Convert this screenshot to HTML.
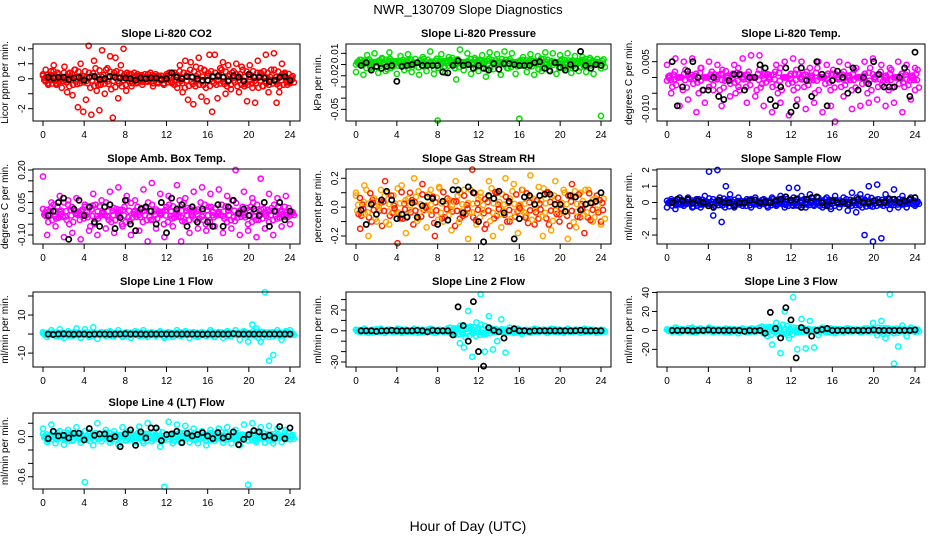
<!DOCTYPE html>
<html><head><meta charset="utf-8"><style>
body{margin:0;background:#fff}
svg{display:block;font-family:"Liberation Sans",sans-serif}
</style></head><body>
<svg id="chart" width="936" height="540" viewBox="0 0 936 540" xmlns="http://www.w3.org/2000/svg">
<text x="468" y="14" text-anchor="middle" font-size="13">NWR_130709  Slope Diagnostics</text>
<text x="468" y="531" text-anchor="middle" font-size="14">Hour of Day (UTC)</text>
</svg>
<script>
const xTicks=[0,4,8,12,16,20,24];
const co2Spread=[0.2,0.6,-0.3,0.5,0.9,-0.4,0.3,-0.6,0.8,-0.9,0.4,-1.1,0.6,-1.9,1.0,-2.2,-1.4,2.2,-2.4,1.2,-0.8,-2.1,1.9,-1.0,0.7,1.5,-2.6,1.4,-1.3,0.9,2.0,-0.8,0.3,-0.5,0.4,-0.3,0.2,-0.4,0.3,-0.2,0.4,-0.5,0.3,-0.3,0.2,-0.4,0.3,0.2,-0.3,0.4,-0.6,0.9,-0.9,1.2,-1.4,1.1,-1.7,0.8,1.4,-1.2,0.6,-1.5,1.6,-2.2,1.6,-1.3,0.7,1.1,-1.0,0.9,-0.7,0.5,1.0,-0.9,0.8,-0.5,-1.5,0.9,-0.6,-1.6,1.2,0.4,-0.5,1.6,-0.9,0.6,1.7,-1.6,-0.9,1.0,0.3,-0.4,-0.2];
const co2Core=[0.3,-0.4,0.5,-0.2,0.4,-0.5,0.6,-0.3,0.5,-0.6,0.7,-0.4,0.6,-0.7,0.5,-0.5,0.4,-0.3,0.3,-0.2,0.3,-0.3,0.2,-0.3,0.4,-0.4,0.5,-0.6,0.6,-0.5,0.7,-0.6,0.5,-0.4,0.6,-0.5,0.4,-0.5,0.6,-0.4,0.5,-0.6,0.5,-0.4,0.6,-0.5,0.4,-0.3];
const co2Black=[0.1,0.05,0.1,0.1,-0.05,0.05,0.1,-0.1,0.1,0.15,-0.05,0,0.15,0.1,0.05,0.05,0,-0.1,0.05,0,0.05,0.05,-0.05,0,0.4,0.1,0,0.15,0.1,0,-0.1,-0.1,0.15,0.2,0.1,-0.15,0.2,0.1,-0.15,0.3,0.1,0.1,0.05,-0.2,-0.1,0.1,0.15,-0.1];
const presSpread=[-0.01,0.003,-0.013,0.008,-0.006,0.01,-0.011,0.005,-0.009,0.011,-0.004,-0.012,0.007,-0.008,0.009,-0.01,0.004,-0.013,0.006,-0.009,0.012,-0.012,-0.062,0.009,-0.011,0.006,0.005,-0.018,0.014,-0.008,0.01,-0.012,0.005,-0.009,0.008,-0.015,0.011,-0.007,0.009,-0.013,0.012,-0.006,0.01,-0.012,-0.06,0.006,-0.01,0.009,-0.013,0.007,-0.009,0.011,-0.008,0.01,-0.012,0.008,-0.006,0.01,-0.011,0.007,-0.009,0.006,-0.01,0.005,-0.012,0.004,-0.057];
const presCore=[-0.002,0.003,-0.006,0.001,-0.004,0.004,-0.007,0.002,-0.003,0.003,-0.006,0,-0.005,0.004,-0.002,-0.007,0.002,-0.004,0.003,-0.006,0.001,-0.003,0.004,-0.005,0.002,-0.007,0.003,-0.002,0.004,-0.006,0.001,-0.004,0.003,-0.005,0.002,-0.007,0.004,-0.003,0.001,-0.006,0.003,-0.004,0.002,-0.005,0.004,-0.003,0.001,-0.006];
const presBlack=[-0.003,0,-0.008,-0.004,-0.006,-0.004,-0.003,-0.02,-0.004,-0.003,-0.002,0,-0.003,-0.003,-0.003,-0.003,-0.01,-0.011,-0.003,0.002,-0.003,-0.002,-0.006,-0.003,-0.006,-0.008,-0.001,-0.007,-0.001,-0.001,-0.002,-0.003,-0.003,-0.003,0,0.001,-0.006,-0.009,0,-0.005,-0.008,-0.002,-0.006,0.012,-0.003,-0.006,-0.002,-0.003];
const tempSpread=[0.004,-0.005,0.006,-0.009,0.005,-0.007,0.006,-0.011,0.003,-0.008,0.005,-0.004,0.004,-0.009,0.002,-0.006,0.004,-0.003,0.006,-0.008,0.007,-0.006,0.007,-0.009,0.001,-0.011,0.004,-0.008,0.005,-0.012,0.006,-0.007,0.005,-0.01,0.003,-0.008,0.005,-0.011,0.004,-0.009,-0.014,0.005,-0.006,0.004,-0.01,0.003,-0.009,0.005,-0.008,0.006,-0.007,0.004,-0.009,0.003,-0.008,0.005,-0.011,0.004,-0.007,0.003];
const tempCore=[-0.001,-0.003,0,-0.004,0.001,-0.002,-0.005,0,-0.003,0.001,-0.004,-0.001,-0.002,-0.005,0.001,-0.003,0,-0.004,-0.002,0.001,-0.003,-0.005,0,-0.002,-0.004,0.001,-0.003,-0.001,-0.005,0,-0.002,-0.004,0.001,-0.003,-0.001,-0.004,0,-0.002,-0.005,0.001,-0.003,-0.001,-0.004,0,-0.002,-0.003,-0.001,-0.004];
const tempBlack=[0.005,-0.009,-0.003,0.002,0.005,0,-0.004,-0.004,0,-0.006,-0.007,-0.001,0.001,0.001,-0.004,0,0,0.004,0.003,-0.007,-0.009,-0.003,0.003,-0.011,-0.009,0.003,-0.001,-0.006,0.005,0.001,-0.009,-0.001,0.002,0,-0.005,0.003,-0.004,0,-0.002,0.005,0.001,-0.003,-0.003,-0.003,0,0.003,-0.006,0.008];
const ambSpread=[0.17,-0.1,0.05,-0.06,0.08,-0.11,0.06,-0.09,0.07,-0.12,0.04,-0.08,0.09,-0.1,0.06,-0.07,0.1,-0.09,0.12,-0.06,0.08,-0.1,0.06,-0.08,0.11,-0.13,0.14,-0.07,0.09,-0.11,0.08,-0.06,0.13,-0.13,0.07,-0.09,0.1,-0.07,0.12,-0.08,0.09,-0.06,0.11,-0.09,0.08,-0.07,0.2,-0.1,0.1,-0.08,0.07,-0.11,0.16,-0.07,0.09,-0.1,0.07,-0.06,0.08,-0.05];
const ambCore=[0.02,-0.04,0.04,-0.02,0.05,-0.05,0.01,-0.03,0.03,-0.06,0.04,-0.01,0.05,-0.04,0.02,-0.05,0.06,-0.02,0.03,-0.04,0.05,-0.03,0.01,-0.05,0.04,-0.02,0.06,-0.04,0.02,-0.03,0.05,-0.05,0.03,-0.01,0.04,-0.04,0.06,-0.02,0.03,-0.05,0.05,-0.03,0.02,-0.04,0.04,-0.02,0.03,-0.01];
const ambBlack=[-0.01,0.01,0.05,0.07,-0.12,0.02,0.06,-0.01,0.03,-0.04,-0.06,0.03,0.04,-0.07,-0.02,0.06,-0.05,-0.08,0.02,0.03,0.01,-0.05,0.05,-0.09,0.07,0.02,0.04,-0.06,0.03,-0.04,0.02,-0.04,-0.06,0.04,-0.06,0.03,0.06,0,0.02,-0.01,0.02,-0.01,0.05,-0.06,0.01,0.05,-0.03,0.01];
const rhSpread=[0.1,-0.15,0.15,-0.2,0.05,-0.1,0.12,0.18,-0.12,0.08,-0.25,0.15,-0.18,0.1,0.2,-0.08,0.16,-0.14,0.12,-0.2,0.14,-0.1,0.06,-0.16,0.18,-0.08,0.12,-0.22,0.26,-0.12,0.1,-0.15,0.18,-0.2,0.1,-0.14,0.2,-0.1,0.16,-0.18,0.12,-0.06,0.22,-0.12,0.14,-0.2,0.1,-0.16,0.18,-0.1,0.12,-0.22,0.16,-0.14,0.1,-0.18,0.12,-0.1,0.08,-0.12];
const rhCore=[0.08,-0.06,0.12,-0.1,0.04,-0.13,0.1,-0.04,0.13,-0.08,0.06,-0.12,0.11,-0.02,0.09,-0.11,0.13,-0.07,0.05,-0.13,0.1,-0.05,0.12,-0.09,0.07,-0.12,0.13,-0.06,0.09,-0.1,0.11,-0.03,0.12,-0.11,0.06,-0.08,0.13,-0.12,0.08,-0.05,0.1,-0.13,0.11,-0.07,0.12,-0.09,0.06,-0.1];
const rhBlack=[-0.02,-0.12,0.02,-0.05,0.05,0.11,0.05,-0.08,-0.05,-0.07,0.03,-0.07,0.01,0.07,0.06,-0.12,0.04,-0.09,0.12,0.12,-0.04,0.14,0.1,-0.1,-0.24,0.08,0.06,0.11,-0.04,0.04,-0.22,-0.08,0.07,0.08,0.02,0.08,0.09,0.09,0.02,0.02,-0.03,0.08,0.07,-0.02,0.02,0.03,0.04,0.1];
const sfSpread=[-0.3,0.2,-0.4,0.3,-0.2,0.3,-0.3,0.2,-0.3,0.4,1.9,-0.8,2.0,-1.2,1.0,0.5,-0.3,0.3,-0.2,0.2,-0.3,0.3,-0.2,0.2,-0.3,0.3,-0.2,0.4,-0.3,0.9,-0.2,0.9,0.4,-0.3,0.5,-0.2,0.3,-0.3,0.3,-0.4,0.4,-0.3,0.3,-0.5,0.6,-0.6,0.5,-2.0,1.0,-2.4,1.1,-2.2,0.5,-0.4,0.8,-0.3,0.4,-0.3,0.3,-0.2];
const sfCore=[0.1,-0.2,0.2,-0.1,0.15,-0.25,0.2,-0.1,0.25,-0.2,0.3,-0.3,0.2,-0.15,0.1,-0.2,0.2,-0.1,0.15,-0.2,0.2,-0.1,0.25,-0.2,0.3,-0.2,0.2,-0.15,0.1,-0.2,0.2,-0.25,0.15,-0.1,0.2,-0.2,0.3,-0.3,0.35,-0.25,0.2,-0.2,0.25,-0.15,0.2,-0.1,0.15,-0.1];
const sfBlack=[0,0.2,0.1,0.2,-0.05,0.1,0,-0.2,-0.3,0.15,0,0,-0.2,0,0,0.15,0.15,0,0.05,0,0.1,0.2,0.35,0.15,0.2,-0.3,0.2,0.3,0.35,0,-0.2,0.1,0,0.05,-0.1,0.1,0.2,0,0,0.1,0,0,0.2,0.2,0,0.1,0.2,0.3];
const l1Spread=[1,-1.5,2,-1,2.5,-2,1.5,-1,3,-2,2.5,-1.5,3.5,-2.5,1,-1,1.5,-1,2,-1.5,1,-2,1.5,-1,2,-1.5,1,-1,1.5,-2,1,-1.5,2,-1,1.5,-2,1,-1.5,1,-1,2,-1.5,1,-2,1.5,-1,2,-3,1.5,-4,5,3,-4,22,-14,-11,2,-3,1.5,2];
const l1Core=[0.5,-0.5,1,-1,0.5,-0.8,1,-0.5,0.8,-1,0.5,-0.5,1,-0.8,0.5,-1,0.8,-0.5,1,-0.8,0.5,-0.5,0.8,-1,0.5,-0.8,1,-0.5,0.8,-1,0.5,-0.8,1,-0.5,0.8,-1,0.5,-0.5,1,-0.8,1.5,-2,1,-1.5,1,-1,0.8,-0.5];
const l1Black=[0,-0.2,0,0.1,0,-0.1,0,0,-0.2,0,0,0,-0.1,0,0,0.1,0,0,0,-0.1,0,0,0,0,0,0,0,0,0,0,-0.1,0,0,0,0,0,0.2,0,0,0,0,0,0,0,0,0,0,0];
const l2Spread=[1,-1,2,-2,1,-1,2,-2,1,-1,2,-2,1,-1,2,-2,1,-1,2,-2,1,-1,2,-3,2,-12,-16,19,-25,8,35,-20,14,-18,-10,11,-21,3,-2,2,-3,1,-2,2,-1,1,-2,2,-1,1,-2,2,-1,1,-2,2,-1,1,-2,1];
const l2Core=[1,-1,0.5,-1.5,1.5,-0.5,1,-1,1.5,-1.5,0.5,-1,1,-1.5,1.5,-1,0.5,-1,3,-4,5,-6,4,-5,6,-3,2,-1,1.5,-1,1,-1.5,0.5,-1,1.5,-0.5,1,-1,1.5,-1,0.5,-1,1,-1.5,1.5,-1,0.5,-1];
const l2Black=[0,0,0,-0.5,0,0,0.5,0,0,0,0,0.5,0,-1,0.5,0,0,0,-4,23,5,-10,28,-20,-34,3,0.5,-1,-7,0,2,0,0,-0.5,0,0,0,0,0,0,0,0,0,0.5,0,0,0,0];
const l3Spread=[1,-1,3,-2,1,-1,3,-2,2,-1,3,-2,1,-1,2,-2,1,-3,2,-2,1,-1,3,-3,2,-15,8,-24,20,-8,35,-20,12,-19,10,-18,-5,3,-2,2,-3,1,-2,2,-1,1,-2,2,-1,8,-5,10,-8,38,-35,-17,5,-6,3,1];
const l3Core=[1,-1.5,1.5,-1,2,-2,1,-1,2,-1.5,1,-2,1.5,-1,1,-2,2,-1,4,-6,3,-4,6,-5,3,-2,2,-1,1,-1.5,1,-2,1.5,-1,2,-1,1,-1.5,2,-1,3,-4,2,-3,1.5,-1,1,-1.5];
const l3Black=[0,0,0,0,-0.5,0,0,0.5,0,0,0,0,0,0,-1,0,-0.5,0,-3,19,2,-8,24,11,-29,3,0,-6,0,1,2,0,0,0,0,0,0,0,0,0.5,0,0,0,0,0,0,0,0.5];
const l4Spread=[0.12,-0.08,0.18,-0.1,0.08,-0.12,0.1,-0.06,0.14,-0.09,-0.68,0.12,-0.13,0.2,-0.07,0.1,-0.09,0.08,-0.12,0.14,-0.06,0.1,-0.08,0.15,-0.1,0.2,-0.07,0.12,-0.15,-0.75,0.22,-0.1,0.18,-0.09,0.16,-0.08,0.12,-0.1,0.08,-0.13,0.1,-0.06,0.12,-0.09,0.14,-0.1,0.1,-0.13,0.18,-0.72,0.2,-0.08,0.14,-0.09,0.16,-0.1,0.12,-0.08,0.1,-0.04];
const l4Core=[0.04,-0.05,0.07,-0.03,0.06,-0.06,0.02,-0.04,0.08,-0.07,0.05,-0.02,0.06,-0.05,0.03,-0.06,0.07,-0.03,0.05,-0.07,0.04,-0.04,0.08,-0.05,0.03,-0.06,0.06,-0.02,0.07,-0.05,0.04,-0.06,0.05,-0.03,0.07,-0.04,0.06,-0.05,0.03,-0.06,0.08,-0.03,0.05,-0.06,0.04,-0.02,0.06,-0.04];
const l4Black=[-0.03,0.08,0.01,0.02,-0.02,0.05,0.05,-0.05,0.12,0.02,0.04,0.04,-0.03,0,-0.15,0.04,0.1,-0.13,0.07,-0.02,0.13,0.13,-0.06,0.03,0.04,0.08,-0.09,0.05,0.01,0.03,0.06,0.01,-0.03,0.06,-0.02,0.0,0.07,-0.12,-0.04,0.03,0.09,0.07,0,0.02,-0.02,0.15,-0.03,0.13];
const co2Ticks=[-2,-1,0,1,2], co2Labels=["-2","","0","1","2"];
const presTicks=[0.01,-0.002,-0.014,-0.026,-0.038,-0.05], presLabels=["0.01","","-0.02","","","-0.05"];
const tempTicks=[0.005,0,-0.005,-0.01], tempLabels=["0.005","","","-0.010"];
const ambTicks=[0.2,0.15,0.1,0.05,0,-0.05,-0.1], ambLabels=["0.20","","","0.05","","","-0.10"];
const rhTicks=[0.2,0.1,0,-0.1,-0.2], rhLabels=["0.2","","0.0","","-0.2"];
const sfTicks=[2,1,0,-1,-2], sfLabels=["2","1","0","","-2"];
const l1Ticks=[20,10,0,-10], l1Labels=["","10","","-10"];
const l2Ticks=[30,20,10,0,-10,-20,-30], l2Labels=["","20","","0","","","-30"];
const l3Ticks=[40,20,0,-20], l3Labels=["40","20","0","-20"];
const l4Ticks=[0.2,0,-0.2,-0.4,-0.6], l4Labels=["","0.0","","","-0.6"];

const colL=[33,346,657], colR=[300,611,925], rowT=[44,169,292,413], rowB=[121,244,367,489];
const panels=[
 {n:'co2',t:'Slope Li-820 CO2',yl:'Licor ppm per min.',c:0,r:0,lo:-2.82,hi:2.32,col:'#ff0000',sp:co2Spread,co:co2Core,bk:co2Black,tk:co2Ticks,lb:co2Labels},
 {n:'pressure',t:'Slope Li-820 Pressure',yl:'kPa per min.',c:1,r:0,lo:-0.0625,hi:0.02,col:'#00e000',sp:presSpread,co:presCore,bk:presBlack,tk:presTicks,lb:presLabels},
 {n:'temp',t:'Slope Li-820 Temp.',yl:'degrees C per min.',c:2,r:0,lo:-0.0138,hi:0.0106,col:'#ff00ff',sp:tempSpread,co:tempCore,bk:tempBlack,tk:tempTicks,lb:tempLabels},
 {n:'amb-box-temp',t:'Slope Amb. Box Temp.',yl:'degrees C per min.',c:0,r:1,lo:-0.1415,hi:0.2046,col:'#ff00ff',sp:ambSpread,co:ambCore,bk:ambBlack,tk:ambTicks,lb:ambLabels},
 {n:'gas-stream-rh',t:'Slope Gas Stream RH',yl:'percent per min.',c:1,r:1,lo:-0.2555,hi:0.2645,col:'#ffa500',col2:'#ff2000',sp:rhSpread,co:rhCore,bk:rhBlack,tk:rhTicks,lb:rhLabels},
 {n:'sample-flow',t:'Slope Sample Flow',yl:'ml/min per min.',c:2,r:1,lo:-2.55,hi:2.06,col:'#0000ff',sp:sfSpread,co:sfCore,bk:sfBlack,tk:sfTicks,lb:sfLabels},
 {n:'line1-flow',t:'Slope Line 1 Flow',yl:'ml/min per min.',c:0,r:2,lo:-17.3,hi:22.1,col:'#00ffff',sp:l1Spread,co:l1Core,bk:l1Black,tk:l1Ticks,lb:l1Labels},
 {n:'line2-flow',t:'Slope Line 2 Flow',yl:'ml/min per min.',c:1,r:2,lo:-34.8,hi:37.3,col:'#00ffff',sp:l2Spread,co:l2Core,bk:l2Black,tk:l2Ticks,lb:l2Labels},
 {n:'line3-flow',t:'Slope Line 3 Flow',yl:'ml/min per min.',c:2,r:2,lo:-38.6,hi:40.5,col:'#00ffff',sp:l3Spread,co:l3Core,bk:l3Black,tk:l3Ticks,lb:l3Labels},
 {n:'line4-flow',t:'Slope Line 4 (LT) Flow',yl:'ml/min per min.',c:0,r:3,lo:-0.783,hi:0.353,col:'#00ffff',sp:l4Spread,co:l4Core,bk:l4Black,tk:l4Ticks,lb:l4Labels}
];
const NS='http://www.w3.org/2000/svg', svg=document.getElementById('chart');
function mk(tag,parent,a){const e=document.createElementNS(NS,tag);for(const k in a)e.setAttribute(k,a[k]);parent.appendChild(e);return e;}
const coreCopies=[[0,1],[0.5,-0.6],[0.25,-0.3],[0.75,0.8],[0.4,0.2]];
panels.forEach(p=>{
 const L=colL[p.c],R=colR[p.c],T=rowT[p.r],B=rowB[p.r];
 const xs=h=>L+10+(R-L-20)*h/24, ys=v=>B-(v-p.lo)/(p.hi-p.lo)*(B-T);
 const g=mk('g',svg,{});
 
 
 const ti=mk('text',g,{x:(L+R)/2,y:T-7,'text-anchor':'middle','font-size':11,'font-weight':'bold'});ti.textContent=p.t;
 
 
 const yl=mk('text',g,{x:0,y:0,'text-anchor':'middle','font-size':10,transform:`translate(${L-25},${(T+B)/2}) rotate(-90)`});yl.textContent=p.yl;
 
 
 const pts=mk('g',g,{fill:'none','stroke-width':1.5});
 
 
 p.sp.forEach((v,i)=>{const c=mk('circle',pts,{cx:xs(i*24/(p.sp.length-1)),cy:ys(v),r:2.6,stroke:(p.col2&&i%3==1)?p.col2:p.col});
  
  });
 coreCopies.forEach(([off,sc],k)=>{
  p.co.forEach((v,i)=>{const c=mk('circle',pts,{cx:xs((i+off)*24/(p.co.length-1)),cy:ys(v*sc),r:2.6,stroke:(p.col2&&(i+k)%2)?p.col2:p.col});
   
   });
 });
 p.bk.forEach((v,i)=>{const c=mk('circle',pts,{cx:xs((i+1)*24/p.bk.length),cy:ys(v),r:2.6,stroke:'#000','stroke-width':1.7});
  
  });
 const box=mk('rect',g,{x:L,y:T,width:R-L,height:B-T,fill:'none',stroke:'#000'});
 
 
 xTicks.forEach(h=>{mk('line',g,{x1:xs(h),x2:xs(h),y1:B,y2:B+5,stroke:'#000'});
  const t=mk('text',g,{x:xs(h),y:B+17,'text-anchor':'middle','font-size':10});t.textContent=h;
  
  });
 p.tk.forEach((v,i)=>{mk('line',g,{x1:L-5,x2:L,y1:ys(v),y2:ys(v),stroke:'#000'});
  if(p.lb[i]){const t=mk('text',g,{x:0,y:0,'text-anchor':'middle','font-size':10,transform:`translate(${L-8},${ys(v)}) rotate(-90)`});t.textContent=p.lb[i];
  
  }});
});
</script>
</body></html>
